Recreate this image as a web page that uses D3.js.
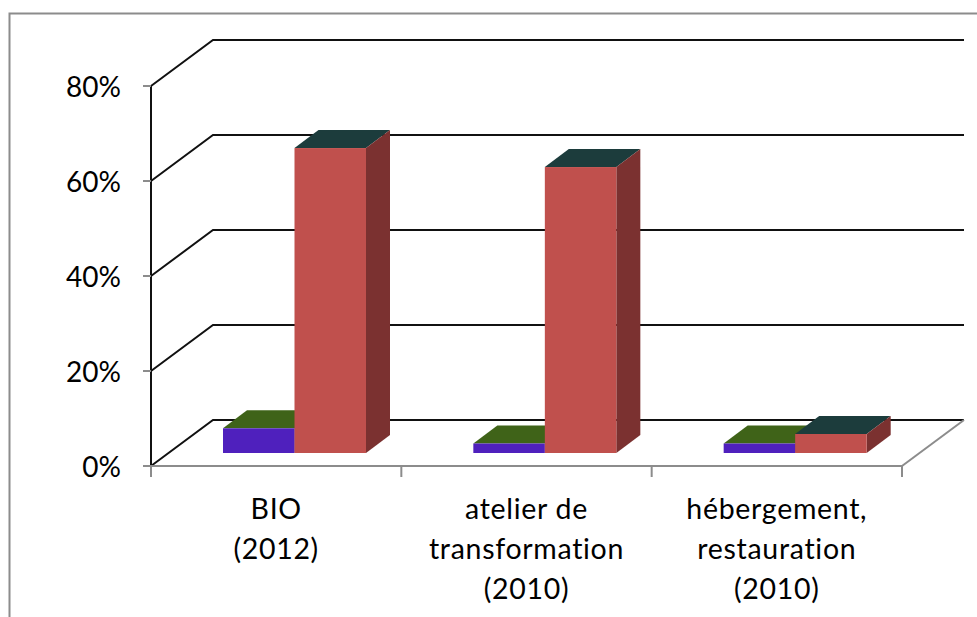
<!DOCTYPE html>
<html><head><meta charset="utf-8">
<style>html,body{margin:0;padding:0;background:#fff}svg{display:block}text{font-family:Lato,"Open Sans",sans-serif;fill:#000}</style>
<script src="https://cdnjs.cloudflare.com/ajax/libs/d3/7.8.5/d3.min.js"></script>
</head><body><svg id="c" width="977" height="617"></svg>
<script>
const categories = [["BIO","(2012)"],["atelier de","transformation","(2010)"],["hébergement,","restauration","(2010)"]];
const seriesA = [0.052, 0.02, 0.02];
const seriesB = [0.642, 0.602, 0.04];
const yTicks = [0, 0.2, 0.4, 0.6, 0.8];

const svg = d3.select("#c");
const x = d3.scaleBand().domain(d3.range(categories.length)).range([151, 902]).paddingInner(0).paddingOuter(0);
const y = d3.scaleLinear().domain([0, 0.8]).range([466, 86]);
const inner = d3.scaleBand().domain([0, 1]).range([0, 143]);
const wall = {dx: 62, dy: -46}, depth = {dx: 24, dy: -18}, inset = {x: 72, y: -13};
const gray = "#8c8c8c", dark = "#111", sw = 2;

// outer frame
svg.append("path").attr("d", "M9.5,617V13.5H977").attr("fill", "none").attr("stroke", gray).attr("stroke-width", sw);

// grid lines on side and back walls
yTicks.forEach(t => {
  const line = d3.line();
  svg.append("path").attr("fill", "none").attr("stroke", dark).attr("stroke-width", sw)
    .attr("d", line([[151, y(t)], [151 + wall.dx, y(t) + wall.dy], [902 + wall.dx, y(t) + wall.dy]]));
});
// vertical wall edge
svg.append("line").attr("x1", 151).attr("x2", 151).attr("y1", y(0.8)).attr("y2", y(0)).attr("stroke", dark).attr("stroke-width", sw);
// floor
svg.append("path").attr("fill", "none").attr("stroke", gray).attr("stroke-width", sw)
  .attr("d", d3.line()([[902, y(0)], [902 + wall.dx, y(0) + wall.dy]]));
svg.append("line").attr("x1", 151).attr("x2", 902).attr("y1", y(0)).attr("y2", y(0)).attr("stroke", gray).attr("stroke-width", sw);
// ticks
yTicks.forEach(t => svg.append("line").attr("x1", 143).attr("x2", 151).attr("y1", y(t)).attr("y2", y(t)).attr("stroke", gray).attr("stroke-width", sw));
d3.range(categories.length + 1).forEach(i => {
  const px = i < categories.length ? x(i) : 902;
  svg.append("line").attr("x1", px).attr("x2", px).attr("y1", y(0)).attr("y2", y(0) + 11).attr("stroke", gray).attr("stroke-width", sw);
});
// y labels
svg.selectAll(".yl").data(yTicks).join("text").attr("class", "yl")
  .attr("x", 121).attr("y", d => y(d) + 11).attr("text-anchor", "end").attr("font-size", 28)
  .text(d => d3.format(".0%")(d));
// x labels
categories.forEach((lines, i) => {
  const cx = x(i) + x.bandwidth() / 2;
  lines.forEach((l, j) => svg.append("text").attr("x", cx).attr("y", 518.5 + j * 40).attr("text-anchor", "middle").attr("font-size", 28.5).attr("letter-spacing", 0.7).text(l));
});

// 3D bars
function bar(i, s, v, cols) {
  const x0 = x(i) + inset.x + inner(s), x1 = x0 + inner.bandwidth();
  const yb = y(0) + inset.y, yt = y(v) + inset.y;
  const L = d3.line();
  const g = svg.append("g");
  g.append("path").attr("fill", cols.top).attr("d", L([[x0, yt], [x1, yt], [x1 + depth.dx, yt + depth.dy], [x0 + depth.dx, yt + depth.dy]]) + "Z");
  g.append("path").attr("fill", cols.side).attr("d", L([[x1, yb], [x1, yt], [x1 + depth.dx, yt + depth.dy], [x1 + depth.dx, yb + depth.dy]]) + "Z");
  g.append("rect").attr("x", x0).attr("y", yt).attr("width", x1 - x0).attr("height", yb - yt).attr("fill", cols.front);
}
const colA = {front: "#4f20bd", top: "#3f6318", side: "#3a1590"};
const colB = {front: "#c0504d", top: "#1c3c3c", side: "#7b3130"};
categories.forEach((_, i) => { bar(i, 0, seriesA[i], colA); bar(i, 1, seriesB[i], colB); });
</script></body></html>
